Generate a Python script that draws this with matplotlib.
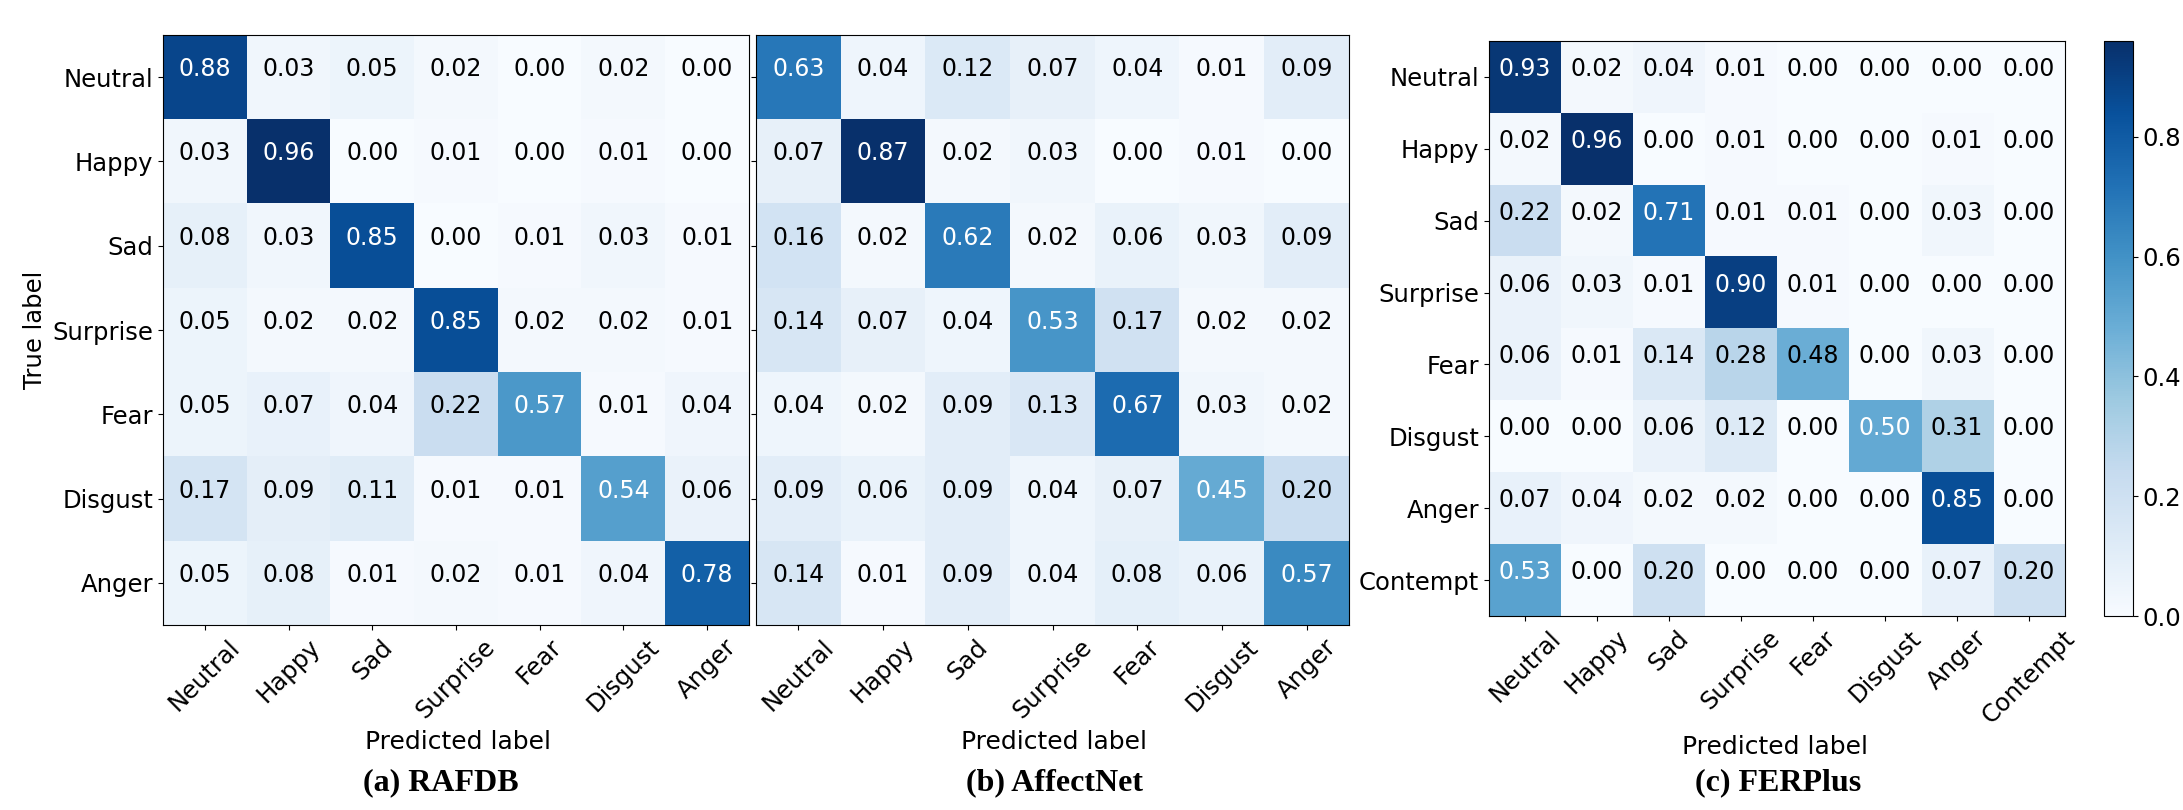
import numpy as np
import matplotlib
matplotlib.use("Agg")
import matplotlib.pyplot as plt
from matplotlib.transforms import offset_copy

labels7 = ["Neutral", "Happy", "Sad", "Surprise", "Fear", "Disgust", "Anger"]
labels8 = ["Neutral", "Happy", "Sad", "Surprise", "Fear", "Disgust", "Anger", "Contempt"]

rafdb = [
    [0.88, 0.03, 0.05, 0.02, 0.00, 0.02, 0.00],
    [0.03, 0.96, 0.00, 0.01, 0.00, 0.01, 0.00],
    [0.08, 0.03, 0.85, 0.00, 0.01, 0.03, 0.01],
    [0.05, 0.02, 0.02, 0.85, 0.02, 0.02, 0.01],
    [0.05, 0.07, 0.04, 0.22, 0.57, 0.01, 0.04],
    [0.17, 0.09, 0.11, 0.01, 0.01, 0.54, 0.06],
    [0.05, 0.08, 0.01, 0.02, 0.01, 0.04, 0.78],
]
affectnet = [
    [0.63, 0.04, 0.12, 0.07, 0.04, 0.01, 0.09],
    [0.07, 0.87, 0.02, 0.03, 0.00, 0.01, 0.00],
    [0.16, 0.02, 0.62, 0.02, 0.06, 0.03, 0.09],
    [0.14, 0.07, 0.04, 0.53, 0.17, 0.02, 0.02],
    [0.04, 0.02, 0.09, 0.13, 0.67, 0.03, 0.02],
    [0.09, 0.06, 0.09, 0.04, 0.07, 0.45, 0.20],
    [0.14, 0.01, 0.09, 0.04, 0.08, 0.06, 0.57],
]
ferplus = [
    [0.93, 0.02, 0.04, 0.01, 0.00, 0.00, 0.00, 0.00],
    [0.02, 0.96, 0.00, 0.01, 0.00, 0.00, 0.01, 0.00],
    [0.22, 0.02, 0.71, 0.01, 0.01, 0.00, 0.03, 0.00],
    [0.06, 0.03, 0.01, 0.90, 0.01, 0.00, 0.00, 0.00],
    [0.06, 0.01, 0.14, 0.28, 0.48, 0.00, 0.03, 0.00],
    [0.00, 0.00, 0.06, 0.12, 0.00, 0.50, 0.31, 0.00],
    [0.07, 0.04, 0.02, 0.02, 0.00, 0.00, 0.85, 0.00],
    [0.53, 0.00, 0.20, 0.00, 0.00, 0.00, 0.07, 0.20],
]
captions = ["(a) RAFDB", "(b) AffectNet", "(c) FERPlus"]
cbar_ticks = [0.0, 0.2, 0.4, 0.6, 0.8]

plt.rcParams["font.family"] = "DejaVu Sans"
W, H = 2183, 810
fig = plt.figure(figsize=(W / 100, H / 100), dpi=100)

def px_axes(l, t, r, b):
    return fig.add_axes([l / W, 1 - b / H, (r - l) / W, (b - t) / H])

FS = 17
TFS = 17.5
panels = [
    (rafdb, labels7, (163, 35, 749, 625), True),
    (affectnet, labels7, (756, 35, 1349, 625), False),
    (ferplus, labels8, (1489, 41, 2065, 616), True),
]
xl_x = [458, 1054, 1775]
cap_x = [441, 1054, 1778]
xl_y = [742, 742, 747]
im_c = None
for k, (data, labs, box, ylab) in enumerate(panels):
    m = np.array(data)
    ax = px_axes(*box)
    im = ax.imshow(m, cmap="Blues", vmin=0, vmax=m.max(), aspect="auto",
                   interpolation="nearest")
    thresh = (m.max() + m.min()) / 2
    n = m.shape[0]
    tr = offset_copy(ax.transData, fig=fig, x=0, y=8, units="dots")
    for i in range(n):
        for j in range(n):
            v = m[i, j]
            ax.text(j, i, f"{v:.2f}", ha="center", va="center", transform=tr,
                    color="white" if v > thresh else "black", fontsize=FS)
    ax.set_xticks(range(n))
    ax.set_xticklabels(labs, rotation=45, fontsize=TFS)
    ax.set_yticks(range(n))
    if ylab:
        ax.set_yticklabels(labs, fontsize=TFS)
    else:
        ax.set_yticklabels([])
    if k == 0:
        ax.set_ylabel("True label", fontsize=TFS)
    fig.text(xl_x[k] / W, 1 - xl_y[k] / H, "Predicted label", ha="center",
             va="center", fontsize=18)
    fig.text(cap_x[k] / W, 1 - 783 / H, captions[k], ha="center", va="center",
             fontsize=23, fontweight="bold", family="Liberation Serif")
    if k == 2:
        im_c = im

cax = px_axes(2104, 41, 2133, 616)
cb = fig.colorbar(im_c, cax=cax, ticks=cbar_ticks)
cb.ax.tick_params(labelsize=TFS)
cb.ax.set_yticklabels([f"{t:.1f}" for t in cbar_ticks])

fig.savefig("out.png", dpi=100)
